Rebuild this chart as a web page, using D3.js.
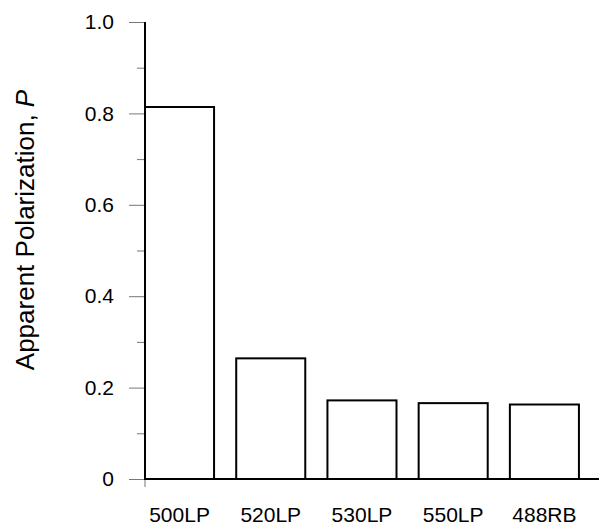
<!DOCTYPE html>
<html>
<head>
<meta charset="utf-8">
<script src="https://cdn.jsdelivr.net/npm/d3@7"></script>
<style>
  body { margin: 0; background: #fff; }
  text { font-family: "Liberation Sans", Arial, sans-serif; }
</style>
</head>
<body>
<script>
// data
var categories = ['500LP', '520LP', '530LP', '550LP', '488RB'];
var values = [0.814, 0.264, 0.172, 0.166, 0.163];
var yTicks = [0, 0.2, 0.4, 0.6, 0.8, 1.0];
var yTickLabels = ['0', '0.2', '0.4', '0.6', '0.8', '1.0'];
var yMinor = [0.1, 0.3, 0.5, 0.7, 0.9];

var w = 599, h = 527;
var mLeft = 145, mRight = 599, mTop = 22, mBottom = 479;

var svg = d3.select('body').append('svg')
  .attr('width', w)
  .attr('height', h);

var y = d3.scaleLinear().domain([0, 1]).range([mBottom, mTop]);
var x = d3.scaleBand().domain(categories)
  .range([mLeft, mRight])
  .paddingInner(0.243)
  .paddingOuter(0.11)
  .align(0);

// bars
svg.selectAll('rect.bar')
  .data(values)
  .enter()
  .append('rect')
  .attr('class', 'bar')
  .attr('x', function(d, i) { return x(categories[i]); })
  .attr('y', function(d) { return y(d); })
  .attr('width', x.bandwidth())
  .attr('height', function(d) { return mBottom - y(d); })
  .attr('fill', 'white')
  .attr('stroke', 'black')
  .attr('stroke-width', 2);

// y axis major ticks
var yAxis = svg.append('g')
  .attr('transform', 'translate(' + mLeft + ',0)')
  .call(d3.axisLeft(y)
    .tickValues(yTicks)
    .tickSize(16)
    .tickPadding(15)
    .tickFormat(function(d, i) { return yTickLabels[i]; }));
yAxis.select('.domain').remove();
yAxis.selectAll('line').attr('stroke', '#777').attr('stroke-width', 1);
yAxis.selectAll('text')
  .attr('font-size', '21px')
  .attr('font-family', '"Liberation Sans", Arial, sans-serif')
  .attr('fill', 'black');

// y axis minor ticks
var yMinorAxis = svg.append('g')
  .attr('transform', 'translate(' + mLeft + ',0)')
  .call(d3.axisLeft(y).tickValues(yMinor).tickSize(8).tickFormat(''));
yMinorAxis.select('.domain').remove();
yMinorAxis.selectAll('line').attr('stroke', '#777').attr('stroke-width', 1);

// x axis labels
var xAxis = svg.append('g')
  .attr('transform', 'translate(0,' + mBottom + ')')
  .call(d3.axisBottom(x).tickSize(0).tickPadding(28));
xAxis.select('.domain').remove();
xAxis.selectAll('text')
  .attr('font-size', '21px')
  .attr('font-family', '"Liberation Sans", Arial, sans-serif')
  .attr('fill', 'black');

// small tick at origin
svg.append('line')
  .attr('x1', mLeft).attr('x2', mLeft)
  .attr('y1', mBottom).attr('y2', mBottom + 8)
  .attr('stroke', '#777');

// axis lines
svg.append('line')
  .attr('x1', mLeft).attr('x2', mLeft)
  .attr('y1', y(1)).attr('y2', mBottom + 1)
  .attr('stroke', 'black').attr('stroke-width', 2);
svg.append('line')
  .attr('x1', mLeft).attr('x2', mRight)
  .attr('y1', mBottom).attr('y2', mBottom)
  .attr('stroke', 'black').attr('stroke-width', 2);

// y title
var title = svg.append('text')
  .attr('transform', 'translate(34,230) rotate(-90)')
  .attr('text-anchor', 'middle')
  .attr('font-size', '26px')
  .attr('fill', 'black');
title.append('tspan').text('Apparent Polarization, ');
title.append('tspan').attr('font-style', 'italic').text('P');
</script>
</body>
</html>
